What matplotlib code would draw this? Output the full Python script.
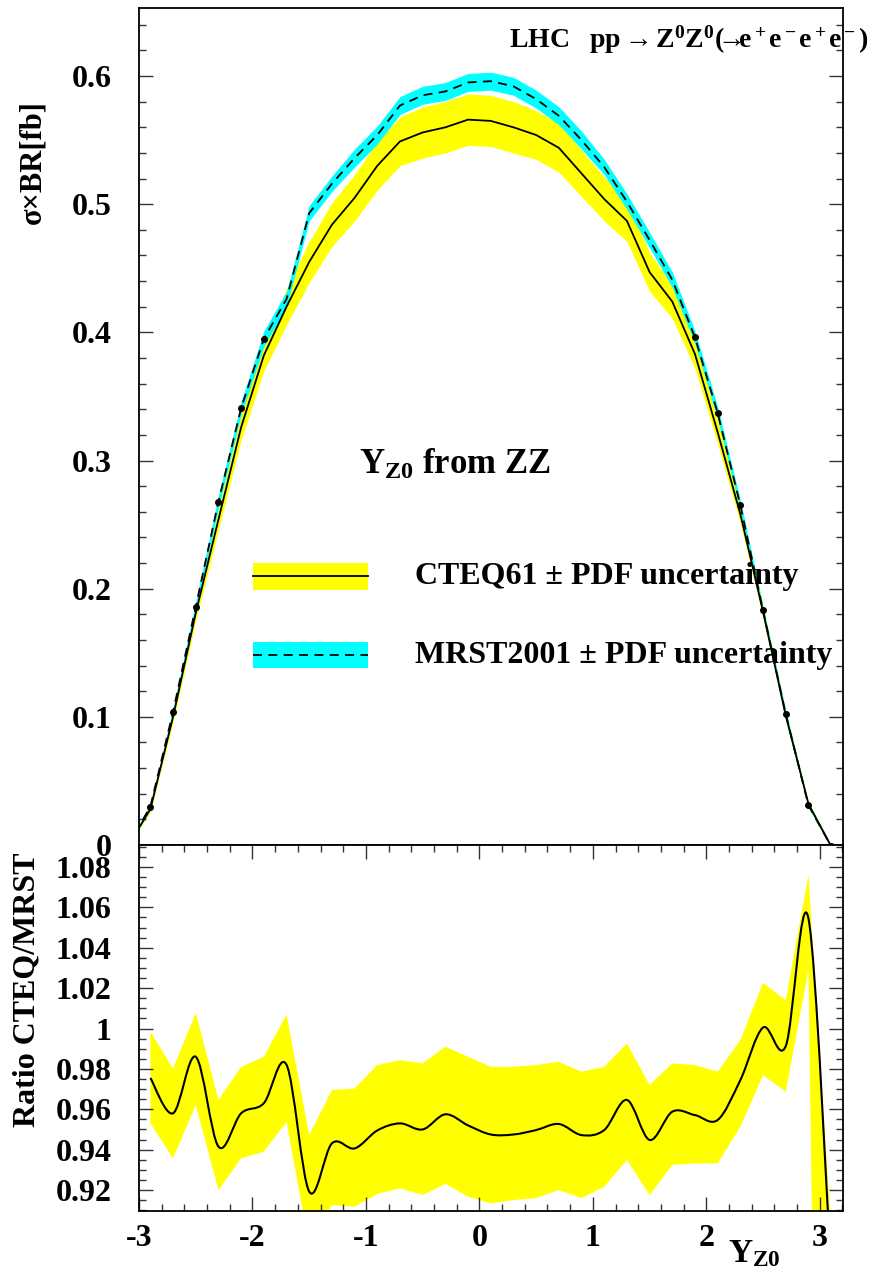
#!/usr/bin/env python3

# Z0 rapidity from ZZ at LHC, CTEQ61 vs MRST2001 with PDF bands + ratio

import matplotlib as mpl
mpl.use("Agg")

import matplotlib.pyplot as plt             # noqa
import numpy as np                          # noqa
from matplotlib.path import Path            # noqa
from matplotlib.patches import PathPatch, Rectangle   # noqa
from matplotlib.lines import Line2D         # noqa
from matplotlib.ticker import MultipleLocator, FuncFormatter   # noqa

# ---- data ----
y_bins = [-3.1, -2.9, -2.7, -2.5, -2.3, -2.1, -1.9, -1.7, -1.5, -1.3, -1.1,
          -0.9, -0.7, -0.5, -0.3, -0.1, 0.1, 0.3, 0.5, 0.7, 0.9, 1.1,
          1.3, 1.5, 1.7, 1.9, 2.1, 2.3, 2.5, 2.7, 2.9, 3.1]

cteq = [-0.001, 0.028, 0.100, 0.181, 0.254, 0.326, 0.382, 0.420, 0.455, 0.484, 0.505,
        0.530, 0.549, 0.556, 0.560, 0.566, 0.565, 0.560, 0.554, 0.544, 0.524, 0.504,
        0.487, 0.447, 0.424, 0.383, 0.322, 0.258, 0.182, 0.101, 0.032, -0.001]
cteq_err = [0.001, 0.002, 0.004, 0.006, 0.008, 0.010, 0.012, 0.014, 0.016, 0.017, 0.018,
            0.019, 0.019, 0.020, 0.020, 0.020, 0.020, 0.020, 0.019, 0.019, 0.018, 0.017,
            0.016, 0.015, 0.013, 0.011, 0.009, 0.007, 0.005, 0.004, 0.002, 0.001]

mrst = [-0.001, 0.030, 0.104, 0.186, 0.268, 0.341, 0.395, 0.426, 0.493, 0.516, 0.536,
        0.554, 0.577, 0.585, 0.588, 0.595, 0.596, 0.592, 0.582, 0.569, 0.550, 0.529,
        0.502, 0.472, 0.441, 0.396, 0.337, 0.265, 0.183, 0.102, 0.031, -0.001]
mrst_err = [0.001, 0.002, 0.003, 0.004, 0.005, 0.005, 0.006, 0.006, 0.006, 0.006, 0.007,
            0.007, 0.007, 0.007, 0.007, 0.007, 0.007, 0.007, 0.007, 0.007, 0.007, 0.006,
            0.006, 0.006, 0.006, 0.005, 0.005, 0.004, 0.003, 0.003, 0.002, 0.001]

r_bins = y_bins[1:]
ratio = [0.9755, 0.958, 0.986, 0.9415, 0.958, 0.963, 0.982, 0.9192, 0.9431, 0.9406,
         0.9495, 0.953, 0.950, 0.9575, 0.952, 0.9475, 0.9475, 0.9497, 0.9527, 0.9472,
         0.9497, 0.9646, 0.9448, 0.9588, 0.9571, 0.9547, 0.9745, 1.0005, 0.9913, 1.0545, 0.88]
ratio_hi = [0.9984, 0.9802, 1.0078, 0.9646, 0.981, 0.986, 1.007, 0.9472, 0.9695, 0.9703,
            0.9819, 0.9843, 0.9827, 0.991, 0.986, 0.981, 0.981, 0.9819, 0.9835, 0.9786,
            0.981, 0.9926, 0.972, 0.9827, 0.9819, 0.9786, 0.9943, 1.0226, 1.014, 1.076, 0.90]
ratio_lo = [0.953, 0.9357, 0.962, 0.920, 0.9357, 0.939, 0.9538, 0.892, 0.9126, 0.9117,
            0.918, 0.9208, 0.9175, 0.923, 0.9167, 0.9134, 0.915, 0.916, 0.920, 0.916,
            0.9216, 0.9349, 0.9175, 0.9324, 0.9332, 0.9332, 0.9513, 0.9769, 0.9687, 1.029, 0.23]

YELLOW = '#ffff00'
CYAN = '#00ffff'

plt.rcParams['font.family'] = ['Liberation Serif', 'DejaVu Serif']
plt.rcParams['mathtext.fontset'] = 'custom'
plt.rcParams['mathtext.rm'] = 'Liberation Serif'
plt.rcParams['mathtext.it'] = 'Liberation Serif:italic'
plt.rcParams['mathtext.bf'] = 'Liberation Serif:bold'


def smooth_path(xs, ys):
  # catmull-rom through the points, as cubic bezier segments (like ROOT "C")
  p = np.column_stack([xs, ys]).astype(float)
  q = np.vstack([p[0], p, p[-1]])
  verts = [p[0]]
  codes = [Path.MOVETO]
  for i in range(1, len(q) - 2):
    c1 = q[i] + (q[i + 1] - q[i - 1]) / 6.0
    c2 = q[i + 1] - (q[i + 2] - q[i]) / 6.0
    verts += [c1, c2, q[i + 1]]
    codes += [Path.CURVE4] * 3
  return Path(verts, codes)


def style_axis(ax):
  ax.tick_params(which='both', direction='in', width=1.0, colors='#333333',
                 labelcolor='black', labelsize=23)
  ax.tick_params(which='major', length=10)
  ax.tick_params(which='minor', length=5)
  for s in ax.spines.values():
    s.set_linewidth(1.3)
  for lab in ax.get_yticklabels() + ax.get_xticklabels():
    lab.set_fontweight('bold')


fig = plt.figure(figsize=(8.75, 12.74), dpi=100)
ax1 = fig.add_axes([0.1589, 0.33673, 0.8046, 0.65699])
ax2 = fig.add_axes([0.1589, 0.04945, 0.8046, 0.28728], sharex=ax1)

x = np.array(y_bins)
c = np.array(cteq)
ce = np.array(cteq_err)
m = np.array(mrst)
me = np.array(mrst_err)

# #######################
# top: cross section
ax1.fill_between(x, c - ce, c + ce, color=YELLOW, lw=0)
ax1.fill_between(x, m - me, m + me, color=CYAN, lw=0)
ax1.plot(x, c, color='black', lw=1.3)
ax1.plot(x, m, color='black', lw=1.3, ls=(0, (5, 3.5)))
edge = np.abs(x) > 1.8
ax1.plot(x[edge], m[edge], ls='none', marker='o', ms=4, color='black')

ax1.set_xlim(-3.0, 3.205)
ax1.set_ylim(0, 0.6531)
ax1.yaxis.set_major_locator(MultipleLocator(0.1))
ax1.yaxis.set_minor_locator(MultipleLocator(0.02))
ax1.yaxis.set_major_formatter(FuncFormatter(lambda v, p: '%g' % round(v, 3)))
ax1.xaxis.set_major_locator(MultipleLocator(1))
ax1.xaxis.set_minor_locator(MultipleLocator(0.2))
ax1.tick_params(axis='x', which='both', bottom=False, top=False, labelbottom=False)
ax1.tick_params(axis='y', which='both', left=True, right=True, pad=20)
style_axis(ax1)

# legend, drawn by hand like the ROOT one
ax1.add_patch(Rectangle((0.162, 0.305), 0.163, 0.032, transform=ax1.transAxes,
                        color=YELLOW, lw=0))
ax1.add_line(Line2D([0.162, 0.325], [0.321, 0.321], transform=ax1.transAxes,
                    color='black', lw=1.3))
ax1.add_patch(Rectangle((0.162, 0.2115), 0.163, 0.031, transform=ax1.transAxes,
                        color=CYAN, lw=0))
ax1.add_line(Line2D([0.162, 0.325], [0.227, 0.227], transform=ax1.transAxes,
                    color='black', lw=1.3, ls=(0, (5, 3.5))))
ax1.text(0.392, 0.321, u'CTEQ61 \u00b1 PDF uncertainty', transform=ax1.transAxes,
         fontsize=23, fontweight='bold', va='center', ha='left')
ax1.text(0.392, 0.227, u'MRST2001 \u00b1 PDF uncertainty', transform=ax1.transAxes,
         fontsize=23, fontweight='bold', va='center', ha='left')
ax1.text(0.449, 0.454, r'$\mathbf{Y}_{\mathbf{Z0}}$ from ZZ', transform=ax1.transAxes,
         fontsize=25, fontweight='bold', va='center', ha='center')

# #######################
# bottom: ratio
rx = np.array(r_bins)
ax2.fill_between(rx, ratio_lo, ratio_hi, color=YELLOW, lw=0)
ax2.add_patch(PathPatch(smooth_path(rx, ratio), fill=False, edgecolor='black', lw=1.5))
ax2.set_ylim(0.9096, 1.0909)
ax2.yaxis.set_major_locator(MultipleLocator(0.02))
ax2.yaxis.set_minor_locator(MultipleLocator(0.005))
ax2.yaxis.set_major_formatter(FuncFormatter(lambda v, p: '%g' % round(v, 3)))
ax2.xaxis.set_major_formatter(FuncFormatter(lambda v, p: '%g' % round(v, 3)))
ax2.tick_params(axis='x', which='both', bottom=True, top=True, pad=9)
ax2.tick_params(axis='y', which='both', left=True, right=True, pad=20)
style_axis(ax2)

# labels
title = (r'$\mathbf{LHC\ \ \ pp}{\rightarrow}\mathbf{Z^0Z^0(}\!\!\!{\rightarrow}\!\!\!'
         r'\mathbf{e^+e^-e^+e^-)}$')
fig.text(0.993, 0.9686, title, fontsize=20, ha='right', va='center')
fig.text(0.038, 0.873, u'\u03c3\u00d7BR[fb]', fontsize=22, fontweight='bold',
         rotation=90, ha='center', va='center')
fig.text(0.031, 0.223, 'Ratio CTEQ/MRST', fontsize=23, fontweight='bold',
         rotation=90, ha='center', va='center')
fig.text(0.832, 0.004, r'$\mathbf{Y}_{\mathbf{Z0}}$', fontsize=24, ha='left', va='bottom')

plt.savefig('out.png', dpi=100)
